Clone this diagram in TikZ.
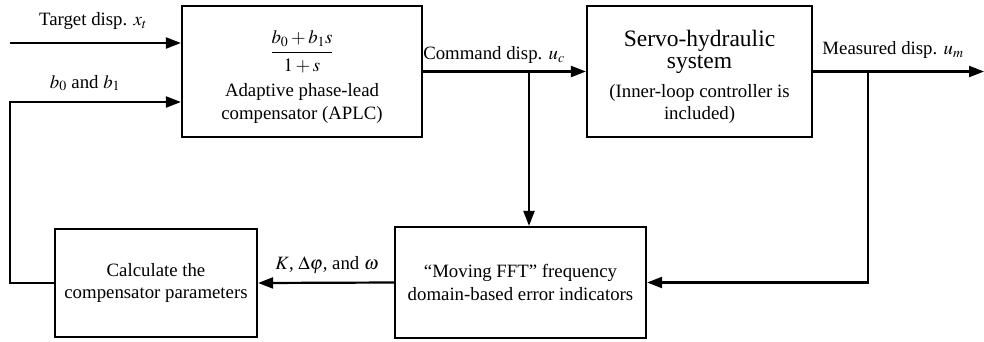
\documentclass[tikz,border=0pt]{standalone}
\usepackage{mathptmx}
\usepackage[no-math]{fontspec}
\setmainfont{Liberation Serif}
\usetikzlibrary{arrows.meta}
\tikzset{
  blk/.style={draw, line width=2.2pt, rectangle, inner sep=0pt},
  intext/.style={align=center, inner sep=0pt, font=\fontsize{18.8}{22.5}\selectfont},
  lbl/.style={font=\fontsize{18.8}{22.5}\selectfont, inner sep=0pt},
  arr/.style={line width=2.2pt, -{Triangle[length=15pt,width=11pt]}}
}
\begin{document}
\begin{tikzpicture}[x=1pt,y=-1pt]
\useasboundingbox (0,0) rectangle (984,341);
% blocks
\node[blk, minimum width=240pt, minimum height=131pt] (aplc) at (302,71.5) {};
\node[intext, font=\fontsize{18.8}{23}\selectfont] (aplctxt) at (302,77)
  {$\displaystyle\frac{b_0+b_1 s}{\rule{0pt}{17pt}1+s}$\\[9pt] Adaptive phase-lead\\ compensator (APLC)};
\node[blk, minimum width=225pt, minimum height=131pt] (servo) at (699.5,71.5) {};
\node[intext] (servotxt) at (699.5,77)
  {{\fontsize{23.5}{27}\selectfont Servo-hydraulic}\\{\fontsize{23.5}{27}\selectfont system}\\[6pt]
   (Inner-loop controller is\\ included)};
\node[blk, minimum width=251pt, minimum height=111pt] (fft) at (520.5,282.5) {};
\node[intext] (ffttxt) at (fft.center)
  {“Moving FFT” frequency\\ domain-based error indicators};
\node[blk, minimum width=202pt, minimum height=108pt] (calc) at (156,283) {};
\node[intext] (calctxt) at (calc.center)
  {Calculate the\\ compensator parameters};
% coordinates
\coordinate (tin) at (10,43);
\coordinate (bcorner) at (10,102);
\coordinate (bbot) at (10,283);
\coordinate (cb) at (529,71.5);
\coordinate (mb) at (868,71.5);
\coordinate (out) at (984,71.5);
% connectors
\draw[arr] (tin) -- (tin -| aplc.west);
\draw[arr] (calc.west) -- (bbot) -- (bcorner) -- (bcorner -| aplc.west);
\draw[arr] (aplc.east) -- (servo.west);
\draw[arr] (cb) -- (cb |- fft.north);
\draw[arr] (servo.east) -- (out);
\draw[arr] (mb) |- (fft.east);
\draw[arr] (fft.west) -- (calc.east);
% labels
\node[lbl] (ltarget) at (93,21) {Target disp. $x_t$};
\node[lbl] (lb) at (85,83) {$b_0$ and $b_1$};
\node[lbl] (lcmd) at (494,55) {Command disp. $u_c$};
\node[lbl] (lmeas) at (893,50) {Measured disp. $u_m$};
\node[lbl] (lk) at (327,265) {$K$, $\Delta\varphi$, and $\omega$};
\end{tikzpicture}
\end{document}
